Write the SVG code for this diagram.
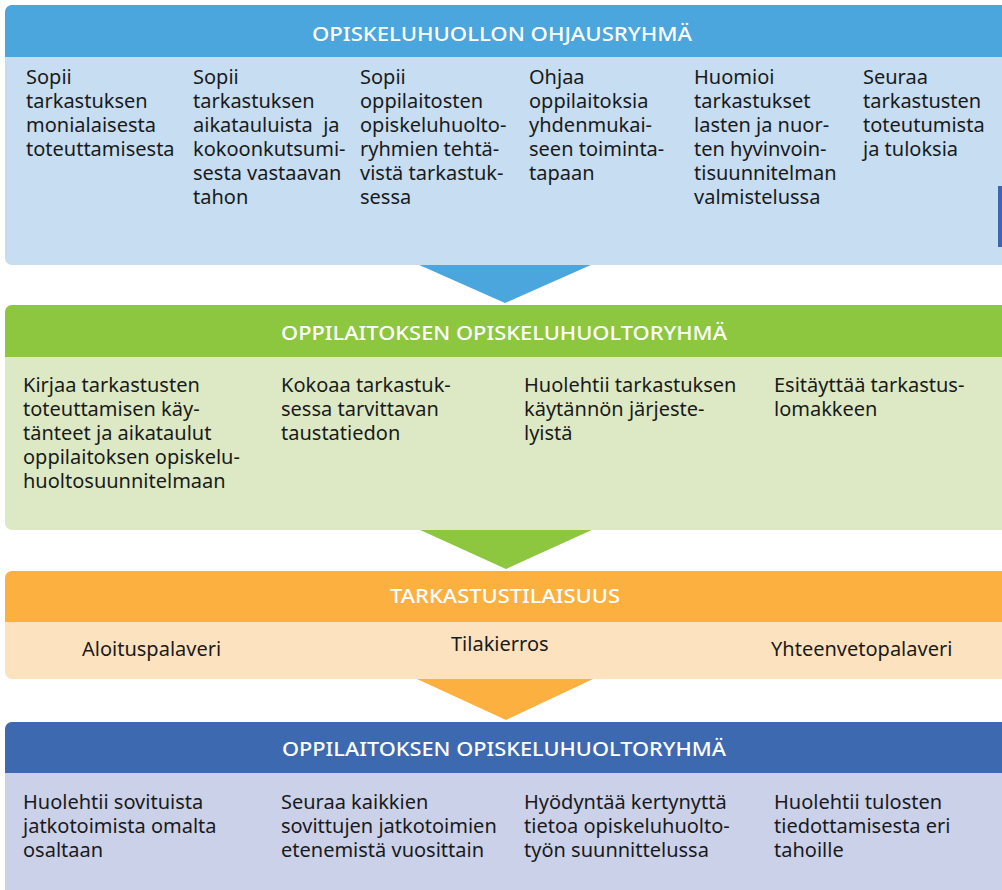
<svg xmlns="http://www.w3.org/2000/svg" width="1002" height="890" viewBox="0 0 1002 890">
<style>
.hd{font-family:"Noto Sans","Open Sans","Liberation Sans",sans-serif;font-size:20px;font-weight:500;fill:#ffffff;text-anchor:middle}
.tx{font-family:"Noto Sans","Open Sans","Liberation Sans",sans-serif;font-size:20px;fill:#1a1a1a;white-space:pre}
</style>
<rect width="1002" height="890" fill="#ffffff"/>
<g id="connectors">
<polygon points="417,264 593,264 505,303" fill="#4aa6dc"/>
<polygon points="418,529 594,529 506,569" fill="#8dc63f"/>
<polygon points="417,679 593,679 506,720" fill="#fbb040"/>
</g>
<g id="ohjausryhma">
<rect x="5" y="5" width="1003" height="260" rx="7" fill="#c6ddf2"/>
<path d="M5,57 V12 a7,7 0 0 1 7,-7 H1002 V57 Z" fill="#4aa6dc"/>
<rect x="998" y="186" width="4" height="61" fill="#3d65b0"/>
<text class="hd" x="502" y="41" textLength="380" lengthAdjust="spacingAndGlyphs">OPISKELUHUOLLON OHJAUSRYHMÄ</text>
<text class="tx" x="26" y="84"><tspan x="26">Sopii</tspan><tspan x="26" dy="24">tarkastuksen</tspan><tspan x="26" dy="24">monialaisesta</tspan><tspan x="26" dy="24">toteuttamisesta</tspan></text>
<text class="tx" x="193" y="84"><tspan x="193">Sopii</tspan><tspan x="193" dy="24">tarkastuksen</tspan><tspan x="193" dy="24">aikatauluista  ja</tspan><tspan x="193" dy="24">kokoonkutsumi-</tspan><tspan x="193" dy="24">sesta vastaavan</tspan><tspan x="193" dy="24">tahon</tspan></text>
<text class="tx" x="360" y="84"><tspan x="360">Sopii</tspan><tspan x="360" dy="24">oppilaitosten</tspan><tspan x="360" dy="24">opiskeluhuolto-</tspan><tspan x="360" dy="24">ryhmien tehtä-</tspan><tspan x="360" dy="24">vistä tarkastuk-</tspan><tspan x="360" dy="24">sessa</tspan></text>
<text class="tx" x="529" y="84"><tspan x="529">Ohjaa</tspan><tspan x="529" dy="24">oppilaitoksia</tspan><tspan x="529" dy="24">yhdenmukai-</tspan><tspan x="529" dy="24">seen toiminta-</tspan><tspan x="529" dy="24">tapaan</tspan></text>
<text class="tx" x="694" y="84"><tspan x="694">Huomioi</tspan><tspan x="694" dy="24">tarkastukset</tspan><tspan x="694" dy="24">lasten ja nuor-</tspan><tspan x="694" dy="24">ten hyvinvoin-</tspan><tspan x="694" dy="24">tisuunnitelman</tspan><tspan x="694" dy="24">valmistelussa</tspan></text>
<text class="tx" x="863" y="84"><tspan x="863">Seuraa</tspan><tspan x="863" dy="24">tarkastusten</tspan><tspan x="863" dy="24">toteutumista</tspan><tspan x="863" dy="24">ja tuloksia</tspan></text>
</g>
<g id="opiskeluhuoltoryhma1">
<rect x="5" y="305" width="1003" height="225" rx="7" fill="#dde9c5"/>
<path d="M5,357 V312 a7,7 0 0 1 7,-7 H1002 V357 Z" fill="#8dc63f"/>
<text class="hd" x="504" y="340" textLength="446" lengthAdjust="spacingAndGlyphs">OPPILAITOKSEN OPISKELUHUOLTORYHMÄ</text>
<text class="tx" x="23" y="392"><tspan x="23">Kirjaa tarkastusten</tspan><tspan x="23" dy="24">toteuttamisen käy-</tspan><tspan x="23" dy="24">tänteet ja aikataulut</tspan><tspan x="23" dy="24">oppilaitoksen opiskelu-</tspan><tspan x="23" dy="24">huoltosuunnitelmaan</tspan></text>
<text class="tx" x="281" y="392"><tspan x="281">Kokoaa tarkastuk-</tspan><tspan x="281" dy="24">sessa tarvittavan</tspan><tspan x="281" dy="24">taustatiedon</tspan></text>
<text class="tx" x="524" y="392"><tspan x="524">Huolehtii tarkastuksen</tspan><tspan x="524" dy="24">käytännön järjeste-</tspan><tspan x="524" dy="24">lyistä</tspan></text>
<text class="tx" x="774" y="392"><tspan x="774">Esitäyttää tarkastus-</tspan><tspan x="774" dy="24">lomakkeen</tspan></text>
</g>
<g id="tarkastustilaisuus">
<rect x="5" y="571" width="1003" height="108" rx="7" fill="#fde2bf"/>
<path d="M5,622 V578 a7,7 0 0 1 7,-7 H1002 V622 Z" fill="#fbb040"/>
<text class="hd" x="505" y="603" textLength="230" lengthAdjust="spacingAndGlyphs">TARKASTUSTILAISUUS</text>
<text class="tx" x="82" y="656">Aloituspalaveri</text>
<text class="tx" x="451" y="651">Tilakierros</text>
<text class="tx" x="771" y="656">Yhteenvetopalaveri</text>
</g>
<g id="opiskeluhuoltoryhma2">
<rect x="5" y="722" width="1003" height="175" rx="7" fill="#cbd1e9"/>
<path d="M5,773 V729 a7,7 0 0 1 7,-7 H1002 V773 Z" fill="#3d69b1"/>
<text class="hd" x="504" y="756" textLength="444" lengthAdjust="spacingAndGlyphs">OPPILAITOKSEN OPISKELUHUOLTORYHMÄ</text>
<text class="tx" x="23" y="809"><tspan x="23">Huolehtii sovituista</tspan><tspan x="23" dy="24">jatkotoimista omalta</tspan><tspan x="23" dy="24">osaltaan</tspan></text>
<text class="tx" x="281" y="809"><tspan x="281">Seuraa kaikkien</tspan><tspan x="281" dy="24">sovittujen jatkotoimien</tspan><tspan x="281" dy="24">etenemistä vuosittain</tspan></text>
<text class="tx" x="524" y="809"><tspan x="524">Hyödyntää kertynyttä</tspan><tspan x="524" dy="24">tietoa opiskeluhuolto-</tspan><tspan x="524" dy="24">työn suunnittelussa</tspan></text>
<text class="tx" x="774" y="809"><tspan x="774">Huolehtii tulosten</tspan><tspan x="774" dy="24">tiedottamisesta eri</tspan><tspan x="774" dy="24">tahoille</tspan></text>
</g>
</svg>
